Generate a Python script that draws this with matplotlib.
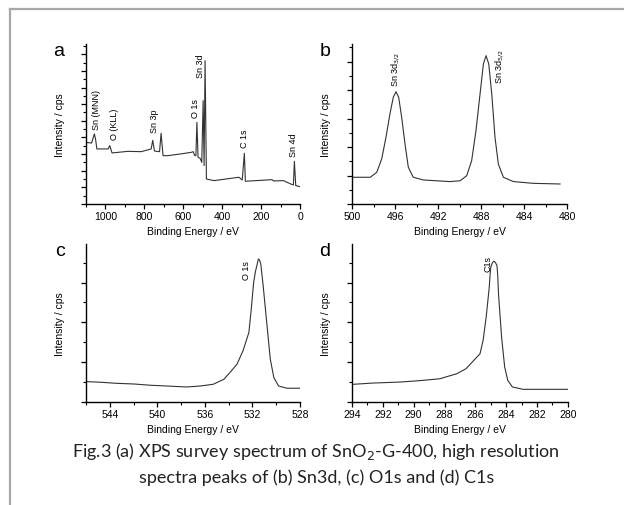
import matplotlib
matplotlib.use('Agg')
import matplotlib.pyplot as plt
from matplotlib.lines import Line2D
from matplotlib.ticker import MultipleLocator

# (a) survey spectrum, binding energy (eV) / intensity (a.u.)
survey_be = [1100, 1071, 1057, 1051, 1044, 986, 978, 966, 884, 816, 765, 757, 748,
             722, 714, 704, 680, 612, 558, 549, 541, 535, 530, 524, 513, 505, 498,
             493, 488, 481, 442, 314, 297, 286, 281, 144, 136, 85, 48, 34, 29, 22, 0]
survey_int = [38.5, 38.1, 43.8, 40.6, 34.4, 34.4, 36.5, 31.9, 32.9, 32.7, 34.4, 39.8, 33.1,
              32.7, 44.2, 30.2, 30.2, 31.3, 32.3, 32.7, 30.2, 30.2, 51.0, 29.2, 28.5, 26.0, 64.6,
              24.0, 89.6, 15.6, 14.6, 16.7, 15.0, 31.7, 14.2, 15.2, 14.4, 14.6, 12.5, 11.9, 26.7, 11.5, 10.8]
survey_peaks = ['Sn (MNN)', 'O (KLL)', 'Sn 3p', 'O 1s', 'Sn 3d', 'C 1s', 'Sn 4d']
survey_peak_be = [1045, 952, 748, 535, 513, 286, 31]
survey_peak_int = [46.9, 40.6, 44.8, 54.2, 79.2, 35.4, 30.2]

# (b) Sn 3d
sn_be = [500.2, 498.3, 497.7, 497.24, 496.84, 496.47, 496.16, 495.91, 495.66, 495.38,
         495.07, 494.76, 494.3, 493.37, 490.9, 489.95, 489.33, 488.87, 488.47, 488.09,
         487.78, 487.53, 487.28, 487.0, 486.7, 486.39, 485.92, 484.99, 483.13, 480.65]
sn_int = [16.7, 16.7, 19.8, 28.1, 41.7, 56.3, 66.7, 70.2, 66.7, 54.2,
          37.5, 22.9, 16.7, 15.0, 14.0, 14.5, 17.7, 27.1, 45.8, 68.75,
          87.5, 92.7, 87.5, 68.75, 41.7, 25.0, 16.7, 14.0, 12.9, 12.5]
sn_peaks = ['Sn 3d$_{3/2}$', 'Sn 3d$_{5/2}$']
sn_peak_be = [495.9, 486.3]
sn_peak_int = [74.0, 75.4]

# (c) O 1s
o_be = [546.0, 544.8, 543.4, 542.0, 540.6, 539.2, 537.5, 536.4, 535.3, 534.4, 533.9,
        533.3, 532.8, 532.3, 532.1, 531.9, 531.75, 531.6, 531.5, 531.4, 531.3, 531.1,
        530.8, 530.5, 530.2, 529.8, 529.1, 528.0]
o_int = [12.9, 12.5, 11.8, 11.4, 10.6, 10.1, 9.5, 10.1, 11.2, 14.4, 18.6,
         23.9, 32.3, 44.0, 58.8, 75.7, 82.5, 87.3, 90.5, 89.8, 87.3, 73.6,
         50.3, 27.1, 15.4, 10.1, 8.7, 8.7]

# (d) C 1s
c_be = [293.9, 292.6, 290.9, 289.6, 288.3, 287.2, 286.6, 286.2, 285.7, 285.5, 285.3,
        285.1, 285.05, 285.0, 284.9, 284.8, 284.7, 284.6, 284.55, 284.5, 284.3, 284.1,
        283.9, 283.6, 282.9, 280.0]
c_int = [11.2, 12.0, 12.6, 13.5, 14.7, 17.9, 21.1, 25.3, 30.5, 38.9, 53.7,
         72.6, 80.0, 85.3, 88.0, 89.1, 88.3, 86.3, 80.0, 68.4, 41.1, 22.1,
         13.7, 9.5, 8.0, 8.0]

plt.rcParams['font.family'] = ['Liberation Sans', 'DejaVu Sans']

fig = plt.figure(figsize=(6.24, 5.06), dpi=100)
fig.patch.set_facecolor('white')

# grey frame (top and left edges)
fig.add_artist(Line2D([10/624, 10/624], [0, 1 - 10/506], color='#a8a8a8', lw=1.6))
fig.add_artist(Line2D([10/624, 1], [1 - 10/506, 1 - 10/506], color='#a8a8a8', lw=1.6))

ax_a = fig.add_axes([0.1378, 0.5949, 0.343, 0.3162])
ax_b = fig.add_axes([0.5641, 0.5949, 0.3446, 0.3162])
ax_c = fig.add_axes([0.1378, 0.2036, 0.343, 0.3123])
ax_d = fig.add_axes([0.5641, 0.2036, 0.346, 0.3123])

panels = [
    (ax_a, survey_be, survey_int, (1100, 0), 200, 100, 'a'),
    (ax_b, sn_be, sn_int, (500, 480), 4, 2, 'b'),
    (ax_c, o_be, o_int, (546, 528), 4, 2, 'c'),
    (ax_d, c_be, c_int, (294, 280), 2, 1, 'd'),
]
ystep = {'a': 10.4, 'b': 17.8, 'c': 25.2, 'd': 25.2}

for ax, xs, ys, xlim, major, minor, letter in panels:
    ax.plot(xs, ys, color='#333333', lw=0.8)
    ax.set_xlim(*xlim)
    ax.set_ylim(0, 100)
    ax.spines['top'].set_visible(False)
    ax.spines['right'].set_visible(False)
    ax.spines['left'].set_linewidth(1.0)
    ax.spines['bottom'].set_linewidth(1.0)
    ax.xaxis.set_major_locator(MultipleLocator(major))
    ax.xaxis.set_minor_locator(MultipleLocator(minor))
    ax.yaxis.set_major_locator(MultipleLocator(ystep[letter]))
    ax.yaxis.set_minor_locator(MultipleLocator(ystep[letter] / 2))
    ax.set_yticklabels([])
    ax.tick_params(which='major', length=3.5, width=0.9, labelsize=7.5, pad=1.5)
    ax.tick_params(which='minor', length=2, width=0.8)
    ax.set_xlabel('Binding Energy / eV', fontsize=7.5, labelpad=4)
    ax.set_ylabel('Intensity / cps', fontsize=7.5, labelpad=10)
    ax.text(-0.1, 0.96, letter, transform=ax.transAxes, fontsize=14,
            ha='right', va='center')

for name, x, y in zip(survey_peaks, survey_peak_be, survey_peak_int):
    ax_a.text(x, y, name, rotation=90, fontsize=6.5, ha='center', va='bottom')
for name, x, y in zip(sn_peaks, sn_peak_be, sn_peak_int):
    ax_b.text(x, y, name, rotation=90, fontsize=6.5, ha='center', va='bottom')
ax_c.text(532.5, 77.8, 'O 1s', rotation=90, fontsize=6.5, ha='center', va='bottom')
ax_d.text(285.2, 82.7, 'C1s', rotation=90, fontsize=6.5, ha='center', va='bottom')

fig.text(0.507, 1 - 452/506, 'Fig.3 (a) XPS survey spectrum of SnO$_2$-G-400, high resolution',
         fontsize=13, family=['Lato', 'DejaVu Sans'], ha='center', va='center', color='#222222')
fig.text(0.507, 1 - 478/506, 'spectra peaks of (b) Sn3d, (c) O1s and (d) C1s',
         fontsize=13, family=['Lato', 'DejaVu Sans'], ha='center', va='center', color='#222222')

fig.savefig('out.png', dpi=100)
